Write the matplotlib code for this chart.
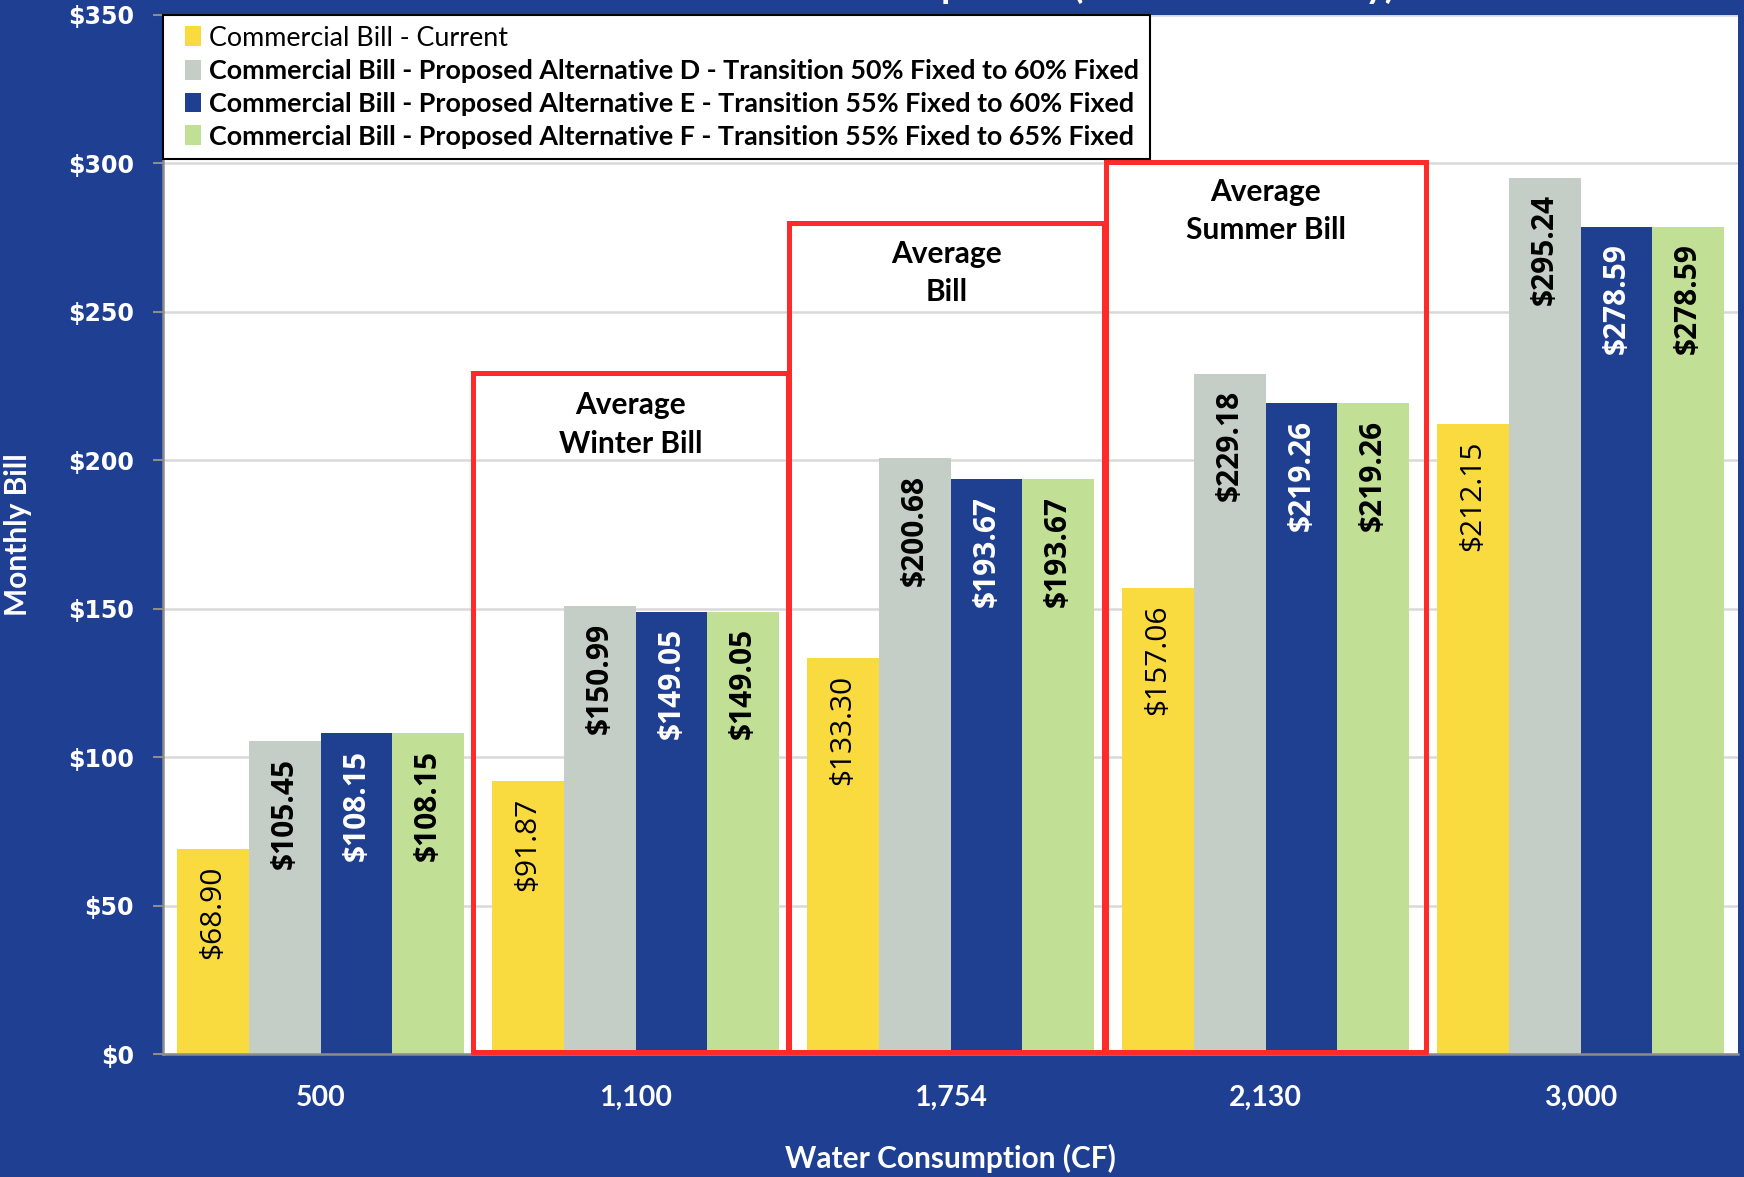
import numpy as np
import matplotlib.pyplot as plt
from matplotlib.patches import Rectangle
from matplotlib.legend_handler import HandlerPatch

# monthly commercial bill by water consumption (CF)
usage = ['500', '1,100', '1,754', '2,130', '3,000']
current = [68.90, 91.87, 133.30, 157.06, 212.15]
alt_d = [105.45, 150.99, 200.68, 229.18, 295.24]
alt_e = [108.15, 149.05, 193.67, 219.26, 278.59]
alt_f = [108.15, 149.05, 193.67, 219.26, 278.59]

names = ['Commercial Bill - Current',
         'Commercial Bill - Proposed Alternative D - Transition 50% Fixed to 60% Fixed',
         'Commercial Bill - Proposed Alternative E - Transition 55% Fixed to 60% Fixed',
         'Commercial Bill - Proposed Alternative F - Transition 55% Fixed to 65% Fixed']
callouts = ['Average\nWinter Bill', 'Average\nBill', 'Average\nSummer Bill']

BG = '#1E3F92'
colors = ['#F9DA3F', '#C4CEC6', '#1F3F91', '#C1E096']
txt_colors = ['black', 'black', 'white', 'black']
txt_weights = ['normal', 'bold', 'bold', 'bold']
RED = '#FF2A2A'


def small_square(legend, orig_handle, xdescent, ydescent, width, height, fontsize):
    # narrow swatch pushed to the right end of the handle slot
    return Rectangle((-xdescent + width * 0.42, -ydescent), width * 0.58, height)


fig = plt.figure(figsize=(17.44, 11.77), dpi=100, facecolor=BG)
ax = fig.add_axes([0.0935, 0.1045, 0.9031, 0.8828])
ax.set_facecolor('white')

x = np.arange(len(usage))
w = 0.2276
allseries = [current, alt_d, alt_e, alt_f]
handles = []
for k, vals in enumerate(allseries):
    pos = x + (k - 1.5) * w
    b = ax.bar(pos, vals, width=w, color=colors[k], label=names[k], zorder=2)
    handles.append(b.patches[0])
    for xp, v in zip(pos, vals):
        ax.annotate('$%.2f' % v, (xp, v), xytext=(0, -12), textcoords='offset points',
                    rotation=90, ha='center', va='top', fontsize=21.5,
                    family='Open Sans', fontweight=txt_weights[k],
                    color=txt_colors[k], zorder=3)

ax.set_xlim(-0.5, 4.5)
ax.set_ylim(0, 350)
ax.set_yticks(np.arange(0, 351, 50))
ax.set_yticklabels(['$%d' % t for t in np.arange(0, 351, 50)],
                   fontsize=17, fontweight='bold', color='white', family='DejaVu Sans')
ax.set_xticks(x)
ax.set_xticklabels(usage, fontsize=20.5, fontweight='bold', color='white', family='Lato')
ax.tick_params(axis='y', length=7, width=1.5, color='#8C8C8C', pad=14)
ax.tick_params(axis='x', length=0, pad=22)
ax.yaxis.grid(True, color='#D9D9D9', lw=1.8, zorder=0)
ax.set_axisbelow(True)
for s in ['top', 'right']:
    ax.spines[s].set_visible(False)
for s in ['left', 'bottom']:
    ax.spines[s].set_color('#8C8C8C')
    ax.spines[s].set_linewidth(1.8)

ax.set_xlabel('Water Consumption (CF)', fontsize=21.5, fontweight='bold',
              color='white', family='Lato', labelpad=24)
ax.set_ylabel('Monthly Bill', fontsize=21.5, fontweight='bold', color='white',
              family='Lato')
ax.yaxis.set_label_coords(-0.083, 0.5)

# red boxes around the average-bill groups
boxes = [(0.484, 1.484, 229.3, 212), (1.486, 2.488, 280.0, 263), (2.492, 3.51, 300.4, 284)]
for (x0, x1, top, ty), label in zip(boxes, callouts):
    ax.add_patch(Rectangle((x0, 0.6), x1 - x0, top - 0.6, fill=False, ec=RED,
                           lw=3.6, joinstyle='miter', zorder=4, clip_on=False))
    ax.text((x0 + x1) / 2, ty, label, ha='center', va='center', fontsize=21.5,
            fontweight='bold', family='Lato', linespacing=1.45, zorder=5)

leg = ax.legend(handles, names, loc='upper left', bbox_to_anchor=(0, 1), borderaxespad=0,
                prop={'family': 'Lato', 'size': 19.4}, handlelength=1.0,
                handleheight=0.75, handletextpad=0.3, labelspacing=0.32,
                borderpad=0.4, fancybox=False, framealpha=1, edgecolor='black',
                handler_map={Rectangle: HandlerPatch(patch_func=small_square)})
leg.get_frame().set_linewidth(1.5)
for i, t in enumerate(leg.get_texts()):
    if i > 0:
        t.set_fontweight('bold')

# chart title sits mostly above the visible area
fig.text(0.8, 1.002, 'Commercial Bill Comparison (Standard Monthly)', ha='right',
         va='baseline', fontsize=27, fontweight='bold', color='white', family='Lato')

fig.savefig('out.png', dpi=100, facecolor=BG)
